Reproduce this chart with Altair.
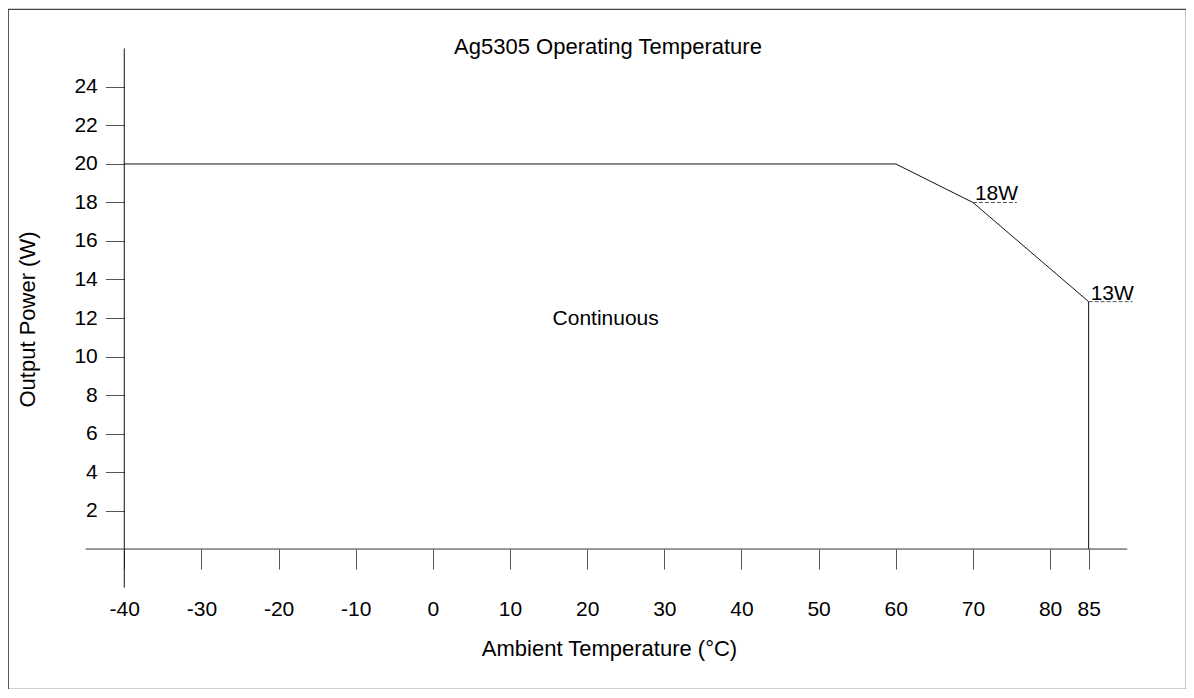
import altair as alt
import pandas as pd

# ---- data ----
temp = [-40, 60, 70, 85, 85]
power = [20, 20, 18, 12.85, 0]

x_tick_values = [-40, -30, -20, -10, 0, 10, 20, 30, 40, 50, 60, 70, 80, 85]
y_tick_values = [2, 4, 6, 8, 10, 12, 14, 16, 18, 20, 22, 24]

x_axis_span = [-45, 90]
y_axis_span = [-2, 26]

marker_text = ["18W", "13W"]
marker_x = [70, 85]
marker_x_end = [75.7, 90.7]
marker_y = [18, 12.85]

region_text = ["Continuous"]
region_x = [22.4]
region_y = [11.64]

x_domain = [-55.07, 97.62]
y_domain = [-7.27, 28.05]

W, H = 1178, 680
FONT = "Liberation Sans"
FS = 21
FS_T = 22

curve = pd.DataFrame({"t": temp, "p": power, "order": list(range(len(temp)))})
xs = alt.Scale(domain=x_domain, nice=False, zero=False)
ys = alt.Scale(domain=y_domain, nice=False, zero=False)

xaxis = alt.Axis(
    values=x_tick_values, orient="bottom", offset=-140, domain=False, grid=False,
    tickSize=20, tickColor="#555", tickWidth=1, labelFontSize=FS, labelFont=FONT,
    labelColor="#000", labelPadding=29, labelFlush=False, labelOverlap=False,
    labelExpr="'' + datum.value",
    title="Ambient Temperature (°C)", titleFont=FONT, titleFontSize=FS_T,
    titleFontWeight="normal", titleColor="#000", titleBaseline="alphabetic",
    titleX=601, titleY=106, titleAnchor="start", titleAlign="center",
)
yaxis = alt.Axis(
    values=y_tick_values, orient="left", offset=-116.3, domain=False, grid=False,
    tickSize=19, tickColor="#555", tickWidth=1, labelFontSize=FS, labelFont=FONT,
    labelColor="#000", labelPadding=8, labelFlush=False, labelOverlap=False,
    labelExpr="'' + datum.value",
    title="Output Power (W)", titleFont=FONT, titleFontSize=FS_T,
    titleFontWeight="normal", titleColor="#000", titleBaseline="alphabetic",
    titleX=-90, titleY=310, titleAngle=-90, titleAlign="center",
)

line = alt.Chart(curve).mark_line(color="#111", strokeWidth=1).encode(
    x=alt.X("t:Q", scale=xs, axis=xaxis),
    y=alt.Y("p:Q", scale=ys, axis=yaxis),
    order="order:Q",
)

xline = alt.Chart(pd.DataFrame({"a": [x_axis_span[0]], "b": [x_axis_span[1]], "y": [0]})).mark_rule(
    color="#333", strokeWidth=1).encode(x=alt.X("a:Q", scale=xs), x2="b:Q", y=alt.Y("y:Q", scale=ys))
yline = alt.Chart(pd.DataFrame({"a": [y_axis_span[0]], "b": [y_axis_span[1]], "x": [-40]})).mark_rule(
    color="#111", strokeWidth=1).encode(y=alt.Y("a:Q", scale=ys), y2="b:Q", x=alt.X("x:Q", scale=xs))

mk = pd.DataFrame({"label": marker_text, "x": marker_x, "x2": marker_x_end, "y": marker_y})
dashes = alt.Chart(mk).mark_rule(color="#555", strokeWidth=1, strokeDash=[4, 2]).encode(
    x=alt.X("x:Q", scale=xs), x2="x2:Q", y=alt.Y("y:Q", scale=ys))
mtext = alt.Chart(mk).mark_text(align="left", baseline="alphabetic", dx=2, dy=-2,
                                font=FONT, fontSize=FS, color="#000").encode(
    x=alt.X("x:Q", scale=xs), y=alt.Y("y:Q", scale=ys), text="label:N")

rg = pd.DataFrame({"label": region_text, "x": region_x, "y": region_y})
rtext = alt.Chart(rg).mark_text(align="center", baseline="alphabetic", font=FONT,
                                fontSize=FS, color="#000").encode(
    x=alt.X("x:Q", scale=xs), y=alt.Y("y:Q", scale=ys), text="label:N")

chart = alt.layer(line, xline, yline, dashes, mtext, rtext).properties(
    width=W, height=H,
    title=alt.TitleParams("Ag5305 Operating Temperature", anchor="middle", offset=-67, dx=11,
                          baseline="alphabetic", font=FONT, fontSize=FS_T,
                          fontWeight="normal", color="#000"),
    autosize=alt.AutoSizeParams(type="none"),
    padding={"left": 0, "top": 1, "right": 0, "bottom": 0},
).configure_view(stroke="#444", strokeWidth=1.2)

chart.save("out.html", embed_options={"renderer": "svg", "actions": False})
